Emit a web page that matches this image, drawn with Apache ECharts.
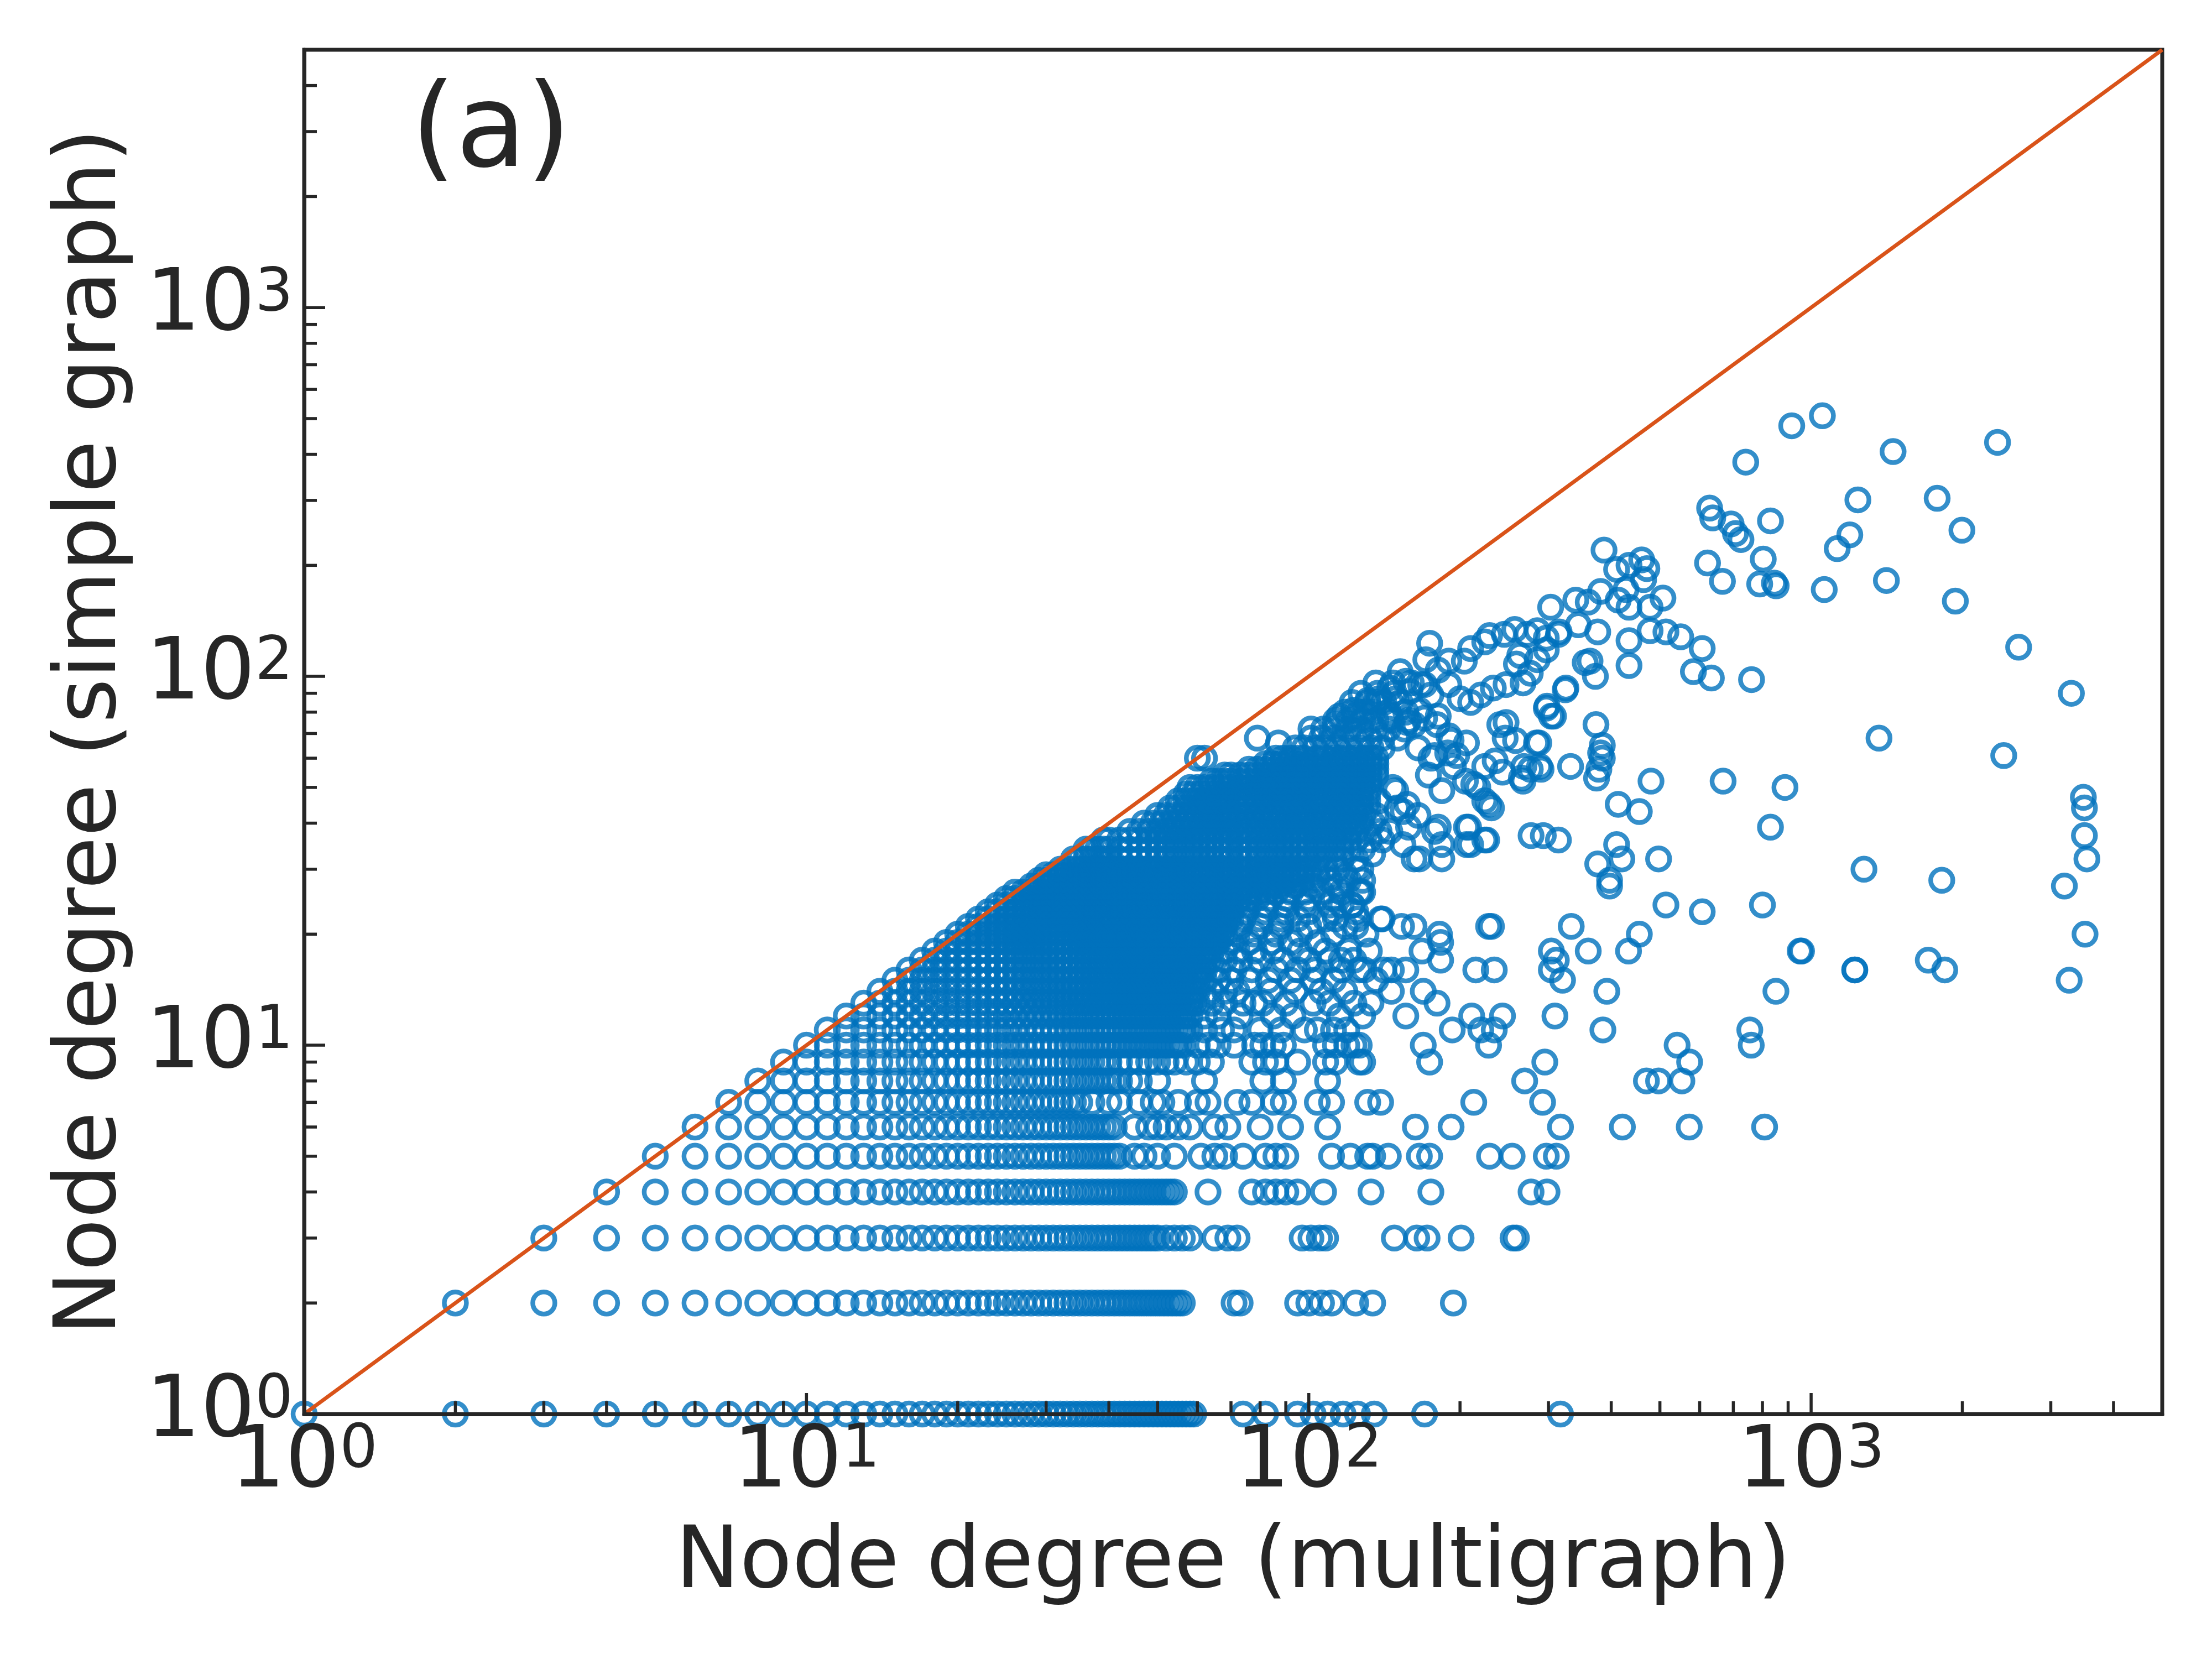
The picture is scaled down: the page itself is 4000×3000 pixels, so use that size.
<!DOCTYPE html>
<html>
<head>
<meta charset="utf-8">
<title>Node degree: simple graph vs multigraph</title>
<script src="https://cdn.jsdelivr.net/npm/echarts@6/dist/echarts.min.js"></script>
<style>
  html, body { margin: 0; padding: 0; background: #fff; }
  #chart { width: 4000px; height: 3000px; }
</style>
</head>
<body>
<div id="chart"></div>
<script>
// rows: [simple graph degree, [multigraph degrees seen at that level]]
const lowRows = [
  [1, [1,2,3,4,5,6,7,8,9,10,11,12,13,14,15,16,17,18,19,20,21,22,23,24,25,26,27,28,29,30,31,32,33,34,35,36,37,38,39,40,41,42,43,44,45,46,47,48,49,50,51,52,53,54,55,56,57,58,59,74,82,95,102,109,117,125,135,170,317]],
  [2, [2,3,4,5,6,7,8,9,10,11,12,13,14,15,16,17,18,19,20,21,22,23,24,25,26,27,28,29,30,31,32,33,34,35,36,37,38,39,40,41,42,43,44,45,46,47,48,49,50,51,52,53,54,55,56,71,73,95,100,106,111,124,134,194]],
  [3, [3,4,5,6,7,8,9,10,11,12,13,14,15,16,17,18,19,20,21,22,23,24,25,26,27,28,29,30,31,32,33,34,35,36,37,38,39,40,41,42,43,44,45,46,47,48,49,50,52,54,56,58,65,69,72,97,101,105,108,148,164,172,201,255,259]],
  [4, [4,5,6,7,8,9,10,11,12,13,14,15,16,17,18,19,20,21,22,23,24,25,26,27,28,29,30,31,32,33,34,35,36,37,38,39,40,41,42,43,44,45,46,47,48,49,50,51,52,53,54,63,77,82,86,90,95,107,133,175,277,298]],
  [5, [5,6,7,8,9,10,11,12,13,14,15,16,17,18,19,20,21,22,23,24,25,26,27,28,29,30,31,32,33,34,35,36,37,38,39,40,41,42,45,47,50,54,61,65,68,74,82,86,90,111,121,131,134,144,166,174,229,254,297,311]],
  [6, [6,7,8,9,10,11,12,13,14,15,16,17,18,19,20,21,22,23,24,25,26,27,28,29,30,31,32,33,34,35,36,37,38,39,40,41,45,48,50,52,55,58,65,69,80,92,109,163,192,317,421,572,808]],
  [7, [7,8,9,10,11,12,13,14,15,16,17,18,19,20,21,22,23,24,25,26,27,28,29,30,31,32,33,34,35,37,40,42,46,49,51,55,60,63,72,77,85,89,104,111,131,139,213,292]],
  [8, [8,9,10,11,12,13,14,15,16,17,18,19,20,21,22,23,24,25,26,27,28,29,30,31,32,33,34,35,36,37,38,39,40,41,42,44,46,50,62,81,89,109,269,470,497,553]],
  [9, [9,10,11,12,13,14,15,16,17,18,19,20,21,22,23,24,25,26,27,28,29,30,31,32,33,34,35,36,37,38,39,40,42,44,46,48,50,52,54,57,60,64,77,82,86,95,108,113,126,128,174,295,573]],
  [10, [10,11,12,13,14,15,16,17,18,19,20,21,22,23,24,25,26,27,28,29,30,31,32,33,34,35,36,37,38,39,40,41,42,43,44,45,46,47,48,49,50,51,52,53,54,55,56,60,63,66,71,78,81,85,89,108,113,119,123,126,169,228,541,760]]
];

const coreRows = [
  [11, [11,12,13,14,15,16,17,18,19,20,21,22,23,24,25,26,27,28,29,30,31,32,33,34,35,36,37,38,39,40,41,42,43,44,45,46,47,48,49,50,51,52,53,54,55,56,57,58,62,67,71,80,88,98,104,112,119]],
  [12, [12,13,14,15,16,17,18,19,20,21,22,23,24,25,26,27,28,29,30,31,32,33,34,35,36,37,38,39,40,41,42,43,44,45,46,47,48,49,50,51,52,53,54,55,56,57,58,62,66,73,85,93,115,128]],
  [13, [13,14,15,16,17,18,19,20,21,22,23,24,25,26,27,28,29,30,31,32,33,34,35,36,37,38,39,40,41,42,43,44,45,46,47,48,49,50,51,52,53,54,55,56,57,58,59,60,64,68,74,78,81,90,102,110]],
  [14, [14,15,16,17,18,19,20,21,22,23,24,25,26,27,28,29,30,31,32,33,34,35,36,37,38,39,40,41,42,43,44,45,46,47,48,49,50,51,52,53,54,55,56,57,58,59,60,64,68,72,84,94,106,118]],
  [15, [15,16,17,18,19,20,21,22,23,24,25,26,27,28,29,30,31,32,33,34,35,36,37,38,39,40,41,42,43,44,45,46,47,48,49,50,51,52,53,54,55,56,57,58,59,60,61,62,66,70,76,83,92,102,112]],
  [16, [16,17,18,19,20,21,22,23,24,25,26,27,28,29,30,31,32,33,34,35,36,37,38,39,40,41,42,43,44,45,46,47,48,49,50,51,52,53,54,55,56,57,58,59,60,61,62,66,71,77,86,95,103,116,126]],
  [17, [17,18,19,20,21,22,23,24,25,26,27,28,29,30,31,32,33,34,35,36,37,38,39,40,41,42,43,44,45,46,47,48,49,50,51,52,53,54,55,56,57,58,59,60,61,62,63,64,68,73,80,89,100,110,116]],
  [18, [18,19,20,21,22,23,24,25,26,27,28,29,30,31,32,33,34,35,36,37,38,39,40,41,42,43,44,45,46,47,48,49,50,51,52,53,54,55,56,57,58,59,60,61,62,63,64,68,72,78,85,96,108,120,132]],
  [19, [19,20,21,22,23,24,25,26,27,28,29,30,31,32,33,34,35,36,37,38,39,40,41,42,43,44,45,46,47,48,49,50,51,52,53,54,55,56,57,58,59,60,61,62,63,64,65,66,70,76,84,92,104]],
  [20, [20,21,22,23,24,25,26,27,28,29,30,31,32,33,34,35,36,37,38,39,40,41,42,43,44,45,46,47,48,49,50,51,52,53,54,55,56,57,58,59,60,61,62,63,64,65,66,67,68,72,78,86,96,112,130]],
  [21, [21,22,23,24,25,26,27,28,29,30,31,32,33,34,35,36,37,38,39,40,42,44,46,48,50,52,54,56,58,60,62,64,66,68,73,80,88,100,118]],
  [22, [22,23,24,25,26,27,28,29,30,31,32,33,34,35,36,37,38,39,40,41,42,43,44,45,46,47,48,49,50,51,52,53,54,55,56,57,58,59,60,61,62,63,64,65,66,67,68,69,70,74,80,88,95,108,125]],
  [23, [23,24,25,26,27,28,29,30,31,32,33,34,35,36,37,38,39,40,42,44,46,48,50,52,54,56,58,60,62,64,66,68,70,75,82,90,100,112]],
  [24, [24,25,26,27,28,29,30,31,32,33,34,35,36,37,38,39,40,41,42,43,44,45,46,47,48,49,50,51,52,53,54,55,56,57,58,59,60,61,62,63,64,65,66,67,68,69,70,71,72,76,82,90,98,110,122]],
  [25, [25,26,27,28,29,30,31,32,33,34,35,36,37,38,39,40,42,44,46,48,50,52,54,56,58,60,62,64,66,68,70,73,76,79,84,90,100,112]],
  [26, [26,27,28,29,30,31,32,33,34,35,36,37,38,39,40,41,42,43,44,45,46,47,48,49,50,52,54,56,58,60,62,64,66,68,70,73,76,79,82,86,92,98,106,116,126]],
  [27, [28,29,30,31,32,33,34,35,36,37,38,39,40,42,44,46,48,50,52,54,56,58,60,62,64,66,68,70,73,76,79,82,85,88,94,102,114]],
  [28, [29,30,31,32,33,34,35,36,37,38,39,40,41,42,43,44,45,46,47,48,49,50,52,54,56,58,60,62,64,66,68,70,73,76,79,82,85,88,91,94,97,102,110,120]],
  [29, [30,31,32,33,34,35,36,37,38,39,40,42,44,46,48,50,52,54,56,58,60,62,64,66,68,70,73,76,79,82,85,88,91,94,97,104,118]],
  [30, [32,33,34,35,36,37,38,39,40,41,42,43,44,45,46,47,48,49,50,52,54,56,58,60,62,64,66,68,70,73,76,79,82,85,88,91,94,97,100,104,108,114,124]],
  [32, [34,35,36,37,38,39,40,42,44,46,48,50,52,54,56,58,60,62,64,66,68,70,73,76,79,82,85,88,91,94,97,100,104,108,112,116,124]],
  [34, [36,37,38,39,40,42,44,46,48,50,52,54,56,58,60,62,64,66,68,70,73,76,79,82,85,88,91,94,97,100,104,108,112,116,120,128]],
  [36, [39,40,42,44,46,48,50,52,54,56,58,60,62,64,66,68,70,73,76,79,82,85,88,91,94,97,100,104,108,112,116,120,124,132]],
  [38, [44,46,48,50,52,54,56,58,60,62,64,66,68,70,73,76,79,82,85,88,91,94,97,100,104,108,112,116,120,124,130,138]],
  [40, [47,49,51,53,55,57,59,61,63,65,67,69,72,75,78,81,84,87,90,93,96,99,103,107,111,115,119,123,127,134]],
  [42, [50,52,54,56,58,60,62,64,66,68,70,73,76,79,82,85,88,91,94,97,100,104,108,112,116,120,124,128,136]],
  [44, [53,55,57,59,61,63,65,67,69,72,75,78,81,84,87,90,93,96,99,103,107,111,115,119,123,127,131]],
  [46, [55,57,59,61,63,65,67,69,72,75,78,81,84,87,90,93,96,99,103,107,111,115,119,123,127,131,138]],
  [48, [57,59,61,63,65,67,69,72,75,78,81,84,87,90,93,96,99,103,107,111,115,119,123,127,131]],
  [50, [58,60,62,64,66,68,70,73,76,79,82,85,88,91,94,97,100,104,108,112,116,120,124,128,132]],
  [52, [64,66,68,70,73,76,79,82,85,88,91,94,97,100,104,108,112,116,120,124,128,132]],
  [54, [68,70,73,76,79,82,85,88,91,94,97,100,104,108,112,116,120,124,128,132,136]],
  [56, [76,79,82,85,88,91,94,97,100,104,108,112,116,120,124,128,132,136]],
  [58, [82,85,88,91,94,97,100,104,108,112,116,120,124,128,132,136]],
  [60, [86,89,92,95,98,104,108,112,116,120,124,128,132,136]]
];

const bandRows = [
  [64, [94,98,103,108,114,120,126,133,140]],
  [68, [101,106,112,118,125,132,140,150]],
  [72, [107,113,120,127,135,144,155]],
  [76, [113,120,128,136,146,158]],
  [80, [118,126,134,144,156]],
  [85, [122,131,141,152]],
  [90, [127,137,148]],
  [96, [136,147,160]]
];

// isolated points, [multigraph degree, simple graph degree]
const outliers = [
  [915,478],[1053,509],[1456,407],[2350,431],[1239,301],[1782,304],[1194,242],[1127,222],[1996,249],[1062,172],
  [1412,182],[1937,160],[2589,120],[3297,90],[1365,68],[2418,61],[3483,47],[3500,44],[3500,37],[3540,32],
  [3193,27],[3510,20],[3264,15],[1274,30],[1820,28],[957,18],[1222,16],[1711,17],[1845,16],
  [741,381],[628,286],[637,269],[693,259],[707,244],[725,235],[830,264],[622,203],[666,181],[803,208],
  [790,178],[845,179],[852,176],[387,220],[410,195],[434,200],[460,207],[471,196],[464,183],[428,172],
  [413,161],[507,163],[478,154],[434,154],[381,170],[360,159],[344,138],[376,132],[340,161],[303,154],
  [315,132],[434,125],[434,107],[478,133],[514,132],[550,128],[607,119],[583,103],[633,99],[761,98],
  [363,110],[372,100],[355,109],[668,52],[887,50],[830,39],[480,52],[413,45],[455,43],[373,74],
  [384,65],[381,62],[378,56],[374,53],[384,60],[332,57],[410,35],[420,32],[376,31],[397,28],
  [497,32],[277,37],[293,37],[314,36],[226,36],[208,39],[210,35],[284,66],[258,67],[325,93],
  [298,83],[307,78],[268,57],[288,57],[265,53],[246,68],[240,74],[228,45],[184,49],[205,52],[217,50],
  [174,123],[171,111],[152,103],[145,93],[136,85],[129,80],[123,78],[190,110],[210,119],[224,124],
  [245,130],[257,134],[272,130],[285,133],[297,127],[314,130],[263,114],[259,108],[285,111],[297,118],
  [276,102],[267,96],[247,95],[233,93],[220,89],[210,85],[200,87],[190,95],[181,104],[170,95],
  [159,91],[149,87],[145,78],[157,75],[170,77],[181,78],[165,64],[178,61],[190,69],[206,66],
  [197,61],[173,54],[224,46],[231,44],[247,75],[287,66],[297,82],[304,78],[324,92],[235,59],
  [243,55],[267,52],[276,56],[290,56],[149,49],[157,45],[165,42],[145,38],[154,35],[162,32],
  [178,38],[184,35],[206,39],[134,33],[140,36],[127,30],
  [156,97],[138,87],[131,86],[123,81],[115,78],[113,74],[79,68],[60,60],[62,60],[101,72],
  [87,66],[204,110],[229,129],[167,95],[175,89],[166,81],[180,74],[162,74],[192,67],[189,62],
  [175,60],[194,57],[213,51],[224,57],[147,50],[150,44],[154,43],[158,39],[166,32],[181,39],
  [184,32],[206,35],[224,36],[128,28],[128,26],[116,24],[122,24],[113,22],[140,22],[153,21],
  [162,21],[182,20],[228,21],
  [127,26],[124,23],[124,21],[139,22],[183,19],[168,18],[183,17],[123,17],[129,16],[141,16],
  [146,16],[156,16],[136,15],[146,14],[169,14],[180,13],[133,13],[123,13],[156,12],[193,11],
  [211,12],[220,11],[234,11],[243,12],[215,16],[234,16],[231,21],[333,21],[304,18],[311,17],
  [304,16],[320,15],[360,18],[392,14],[309,12],[385,11],[397,27],[455,20],[433,18],[514,24],
  [607,23],[800,24],[951,18],[1221,16],[851,14],[755,11]
];

const majorTicks = [1, 10, 100, 1000];
const minorTicks = [2,3,4,5,6,7,8,9,20,30,40,50,60,70,80,90,200,300,400,500,600,700,800,900,2000,3000,4000];
const diagonal = [[1, 1], [5000, 5000]];

const FONT = 'DejaVu Sans';
const INK = '#262626';

const points = [];
[lowRows, coreRows, bandRows].forEach(rows => {
  rows.forEach(([y, xs]) => xs.forEach(x => points.push([x, y])));
});
outliers.forEach(p => points.push(p));

const powLabel = v => {
  const e = Math.round(Math.log10(v));
  if (Math.abs(v - Math.pow(10, e)) > 1e-6 * v) return '';
  return '{b|10}{s|' + e + '}';
};
const labelRich = {
  b: { fontFamily: FONT, fontSize: 155, lineHeight: 155, color: INK },
  s: { fontFamily: FONT, fontSize: 108, lineHeight: 73, verticalAlign: 'top', color: INK }
};

// tick marks drawn inward, through the axes' own scales
function tickSeries(values, dir, len) {
  return {
    type: 'custom',
    coordinateSystem: 'cartesian2d',
    silent: true,
    z: 6,
    clip: false,
    data: values.map(v => dir === 'x' ? [v, 1] : [1, v]),
    renderItem: (params, api) => {
      const p = api.coord([api.value(0), api.value(1)]);
      const shape = dir === 'x'
        ? { x1: p[0], y1: p[1], x2: p[0], y2: p[1] - len }
        : { x1: p[0], y1: p[1], x2: p[0] + len, y2: p[1] };
      return { type: 'line', shape: shape, style: { stroke: INK, lineWidth: 5.5 } };
    }
  };
}

const chart = echarts.init(document.getElementById('chart'));
chart.setOption({
  animation: false,
  backgroundColor: '#ffffff',
  title: {
    text: '(a)',
    left: 738,
    top: 137,
    textStyle: { fontFamily: FONT, fontSize: 208, fontWeight: 'normal', color: INK, lineHeight: 208 }
  },
  grid: {
    left: 550, right: 90, top: 90, bottom: 443,
    show: true, borderColor: INK, borderWidth: 7, backgroundColor: 'transparent'
  },
  xAxis: {
    type: 'log', logBase: 10, min: 1, max: 5000, z: 5,
    axisLine: { lineStyle: { color: INK, width: 7 } },
    axisTick: { show: false },
    splitLine: { show: false },
    axisLabel: { margin: 13, formatter: powLabel, rich: labelRich },
    name: 'Node degree (multigraph)',
    nameLocation: 'middle',
    nameGap: 195,
    nameTextStyle: { fontFamily: FONT, fontSize: 155, lineHeight: 155, color: INK }
  },
  yAxis: {
    type: 'log', logBase: 10, min: 1, max: 5000, z: 5,
    axisLine: { lineStyle: { color: INK, width: 7 } },
    axisTick: { show: false },
    splitLine: { show: false },
    axisLabel: { margin: 20, formatter: powLabel, rich: labelRich },
    name: 'Node degree (simple graph)',
    nameLocation: 'middle',
    nameGap: 305,
    nameTextStyle: { fontFamily: FONT, fontSize: 155, lineHeight: 155, color: INK }
  },
  series: [
    {
      type: 'scatter',
      data: points,
      symbol: 'circle',
      symbolSize: 40,
      large: false,
      progressive: 0,
      clip: true,
      z: 2,
      itemStyle: { color: 'rgba(0,0,0,0)', borderColor: '#0072BD', borderWidth: 8.5 }
    },
    {
      type: 'line',
      data: diagonal,
      showSymbol: false,
      z: 3,
      lineStyle: { color: '#D95319', width: 7 }
    },
    tickSeries(majorTicks, 'x', 38),
    tickSeries(minorTicks, 'x', 23),
    tickSeries(majorTicks, 'y', 38),
    tickSeries(minorTicks, 'y', 23)
  ]
});
</script>
</body>
</html>
